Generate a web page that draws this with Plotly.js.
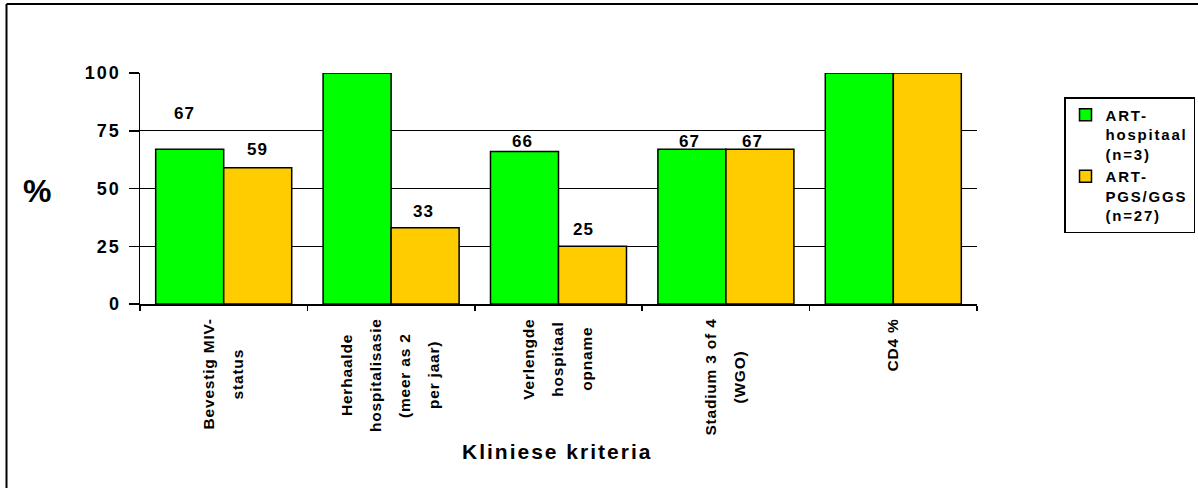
<!DOCTYPE html>
<html>
<head>
<meta charset="utf-8">
<script src="https://cdn.plot.ly/plotly-3.0.1.min.js"></script>
<style>
  html, body { margin: 0; padding: 0; background: #fff; }
  #chart { width: 1198px; height: 488px; }
</style>
</head>
<body>
<div id="chart"></div>
<script>
// ---- data ----
const categories = [
  "Bevestig MIV-status",
  "Herhaalde hospitalisasie (meer as 2 per jaar)",
  "Verlengde hospitaal opname",
  "Stadium 3 of 4 (WGO)",
  "CD4 %"
];
const categoryLines = [
  ["Bevestig MIV-", "status"],
  ["Herhaalde", "hospitalisasie", "(meer as 2", "per jaar)"],
  ["Verlengde", "hospitaal", "opname"],
  ["Stadium 3 of 4", "(WGO)"],
  ["CD4 %"]
];
const hospitaalValues = [67, 100, 66, 67, 100];
const pgsValues = [59, 33, 25, 67, 100];
const hospitaalLabelled = [true, false, true, true, false];
const pgsLabelled = [true, true, true, true, false];
const seriesNames = [["ART-", "hospitaal", "(n=3)"], ["ART-", "PGS/GGS", "(n=27)"]];
const yTickValues = [0, 25, 50, 75, 100];
const yTitle = "%";
const xTitle = "Kliniese kriteria";

// ---- styling ----
const FONT = "Liberation Sans, Arial, sans-serif";
const GREEN = "#00ff00";
const ORANGE = "#ffcc00";
const BARGAP = 0.1875;
const M = { l: 140, r: 221, t: 73, b: 184, autoexpand: false };
const W = 1198, H = 488;
const PW = W - M.l - M.r, PH = H - M.t - M.b;

function spaced(s, px) { return '<span style="letter-spacing:' + px + 'px">' + s + '</span>'; }
// pixel position -> paper fraction
const px2x = p => (p - M.l) / PW;
const px2y = p => (H - M.b - p) / PH;

// value-label placement (pixels above bar top, horizontal nudge)
const hospLabelRise = [36, 0, 10, 8, 0];
const hospLabelNudge = [-5, 0, -2, -2, 0];
const pgsLabelRise = [18, 16, 17, 8, 0];
const pgsLabelNudge = [0, -2, -9, -7, 0];

const traces = [
  {
    type: "bar", x: categories, y: hospitaalValues,
    name: seriesNames[0].map(l => spaced(l, 1.8)).join("<br>"),
    marker: { color: GREEN, line: { color: "#000", width: 1.5 } },
    hoverinfo: "skip"
  },
  {
    type: "bar", x: categories, y: pgsValues,
    name: seriesNames[1].map(l => spaced(l, 1.8)).join("<br>"),
    marker: { color: ORANGE, line: { color: "#000", width: 1.5 } },
    hoverinfo: "skip"
  }
];

const annotations = [];
const halfBar = (1 - BARGAP) / 4;
const VAL_FONT = { family: FONT, size: 17, color: "#000", weight: "bold" };

// value labels above the bars
hospitaalValues.forEach((v, i) => {
  if (!hospitaalLabelled[i]) return;
  annotations.push({
    xref: "x", yref: "y", x: i - halfBar, y: v,
    text: spaced(String(v), 1), showarrow: false,
    yanchor: "middle", yshift: hospLabelRise[i], xshift: hospLabelNudge[i],
    font: VAL_FONT
  });
});
pgsValues.forEach((v, i) => {
  if (!pgsLabelled[i]) return;
  annotations.push({
    xref: "x", yref: "y", x: i + halfBar, y: v,
    text: spaced(String(v), 1), showarrow: false,
    yanchor: "middle", yshift: pgsLabelRise[i], xshift: pgsLabelNudge[i],
    font: VAL_FONT
  });
});

// rotated category labels, one annotation per line, centred on a shared axis
const CAT_SIZE = 15.5, CAT_SPACING = 0.8, CAT_LINE_GAP = 29, CAT_TOP = 15;
const ctx = document.createElement("canvas").getContext("2d");
ctx.font = "bold " + CAT_SIZE + "px 'Liberation Sans'";
const lineLen = s => ctx.measureText(s).width + CAT_SPACING * (s.length - 1);
categoryLines.forEach((lines, i) => {
  const longest = Math.max(...lines.map(lineLen));
  lines.forEach((line, j) => {
    annotations.push({
      xref: "x", yref: "paper", x: i, y: 0,
      text: spaced(line, CAT_SPACING), showarrow: false, textangle: -90,
      xanchor: "center", yanchor: "middle",
      xshift: (j - (lines.length - 1) / 2) * CAT_LINE_GAP - 1,
      yshift: -(CAT_TOP + longest / 2),
      font: { family: FONT, size: CAT_SIZE, color: "#000", weight: "bold" }
    });
  });
});

// axis titles
annotations.push({
  xref: "paper", yref: "paper", x: px2x(37), y: px2y(191),
  text: yTitle, showarrow: false, xanchor: "center", yanchor: "middle",
  font: { family: FONT, size: 32, color: "#000", weight: "bold" }
});
annotations.push({
  xref: "paper", yref: "paper", x: px2x(557), y: px2y(451),
  text: spaced(xTitle, 2), showarrow: false, xanchor: "center", yanchor: "middle",
  font: { family: FONT, size: 21, color: "#000", weight: "bold" }
});

const layout = {
  width: W, height: H,
  margin: M,
  paper_bgcolor: "#fff", plot_bgcolor: "#fff",
  barmode: "group", bargap: BARGAP, bargroupgap: 0,
  showlegend: true,
  legend: {
    x: px2x(1064), y: px2y(97), xanchor: "left", yanchor: "top",
    bordercolor: "#000", borderwidth: 1.5, bgcolor: "#fff",
    valign: "top", traceorder: "normal", tracegroupgap: 0,
    font: { family: FONT, size: 15, color: "#000", weight: "bold" }
  },
  xaxis: {
    type: "category", range: [-0.5, 4.5],
    showline: true, linecolor: "#000", linewidth: 1.5,
    ticks: "outside", tickson: "boundaries", ticklen: 5, tickwidth: 1.5, tickcolor: "#000",
    showticklabels: false, showgrid: false, zeroline: false, fixedrange: true
  },
  yaxis: {
    range: [0, 100], tickvals: yTickValues,
    ticktext: yTickValues.map(v => spaced(String(v), 2)),
    showline: true, linecolor: "#000", linewidth: 1.5,
    ticks: "outside", ticklen: 10, tickwidth: 1.5, tickcolor: "#000",
    ticklabelstandoff: 4,
    showgrid: true, gridcolor: "#000", gridwidth: 1,
    zeroline: false, fixedrange: true,
    tickfont: { family: FONT, size: 18, color: "#000", weight: "bold" }
  },
  annotations: annotations,
  shapes: [
    { type: "line", xref: "paper", yref: "paper",
      x0: px2x(6.5), x1: px2x(6.5), y0: px2y(4), y1: px2y(500),
      line: { color: "#000", width: 2 } },
    { type: "line", xref: "paper", yref: "paper",
      x0: px2x(6.5), x1: px2x(1210), y0: px2y(4), y1: px2y(4),
      line: { color: "#000", width: 2 } }
  ]
};

Plotly.newPlot("chart", traces, layout, { displayModeBar: false, staticPlot: true });
</script>
</body>
</html>
